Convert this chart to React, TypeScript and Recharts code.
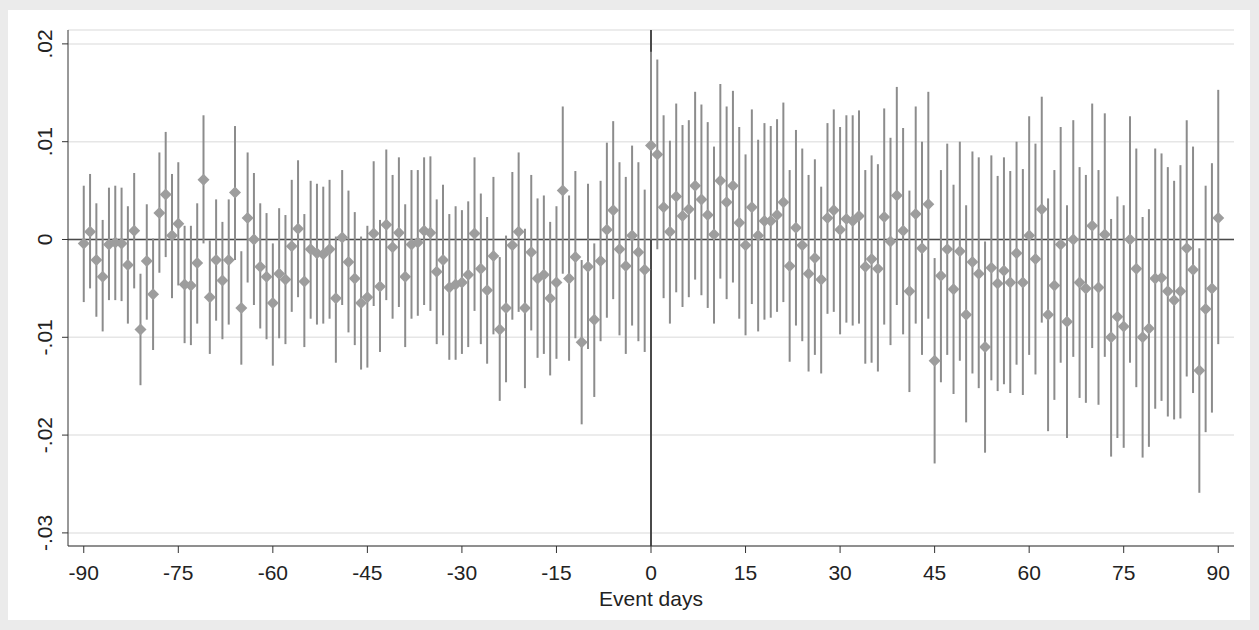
import React from 'react';
import {
  ComposedChart,
  Scatter,
  ErrorBar,
  XAxis,
  YAxis,
  CartesianGrid,
  ReferenceLine,
} from 'recharts';

// event days -90..90
const eventDays = [
  -90, -89, -88, -87, -86, -85, -84, -83, -82, -81, -80, -79, -78, -77, -76,
  -75, -74, -73, -72, -71, -70, -69, -68, -67, -66, -65, -64, -63, -62, -61,
  -60, -59, -58, -57, -56, -55, -54, -53, -52, -51, -50, -49, -48, -47, -46,
  -45, -44, -43, -42, -41, -40, -39, -38, -37, -36, -35, -34, -33, -32, -31,
  -30, -29, -28, -27, -26, -25, -24, -23, -22, -21, -20, -19, -18, -17, -16,
  -15, -14, -13, -12, -11, -10, -9, -8, -7, -6, -5, -4, -3, -2, -1,
  0, 1, 2, 3, 4, 5, 6, 7, 8, 9, 10, 11, 12, 13, 14,
  15, 16, 17, 18, 19, 20, 21, 22, 23, 24, 25, 26, 27, 28, 29,
  30, 31, 32, 33, 34, 35, 36, 37, 38, 39, 40, 41, 42, 43, 44,
  45, 46, 47, 48, 49, 50, 51, 52, 53, 54, 55, 56, 57, 58, 59,
  60, 61, 62, 63, 64, 65, 66, 67, 68, 69, 70, 71, 72, 73, 74,
  75, 76, 77, 78, 79, 80, 81, 82, 83, 84, 85, 86, 87, 88, 89, 90,
];

const estimates = [
  -0.0004, 0.0008, -0.0021, -0.0038, -0.0005, -0.0003, -0.0004, -0.0026, 0.0009, -0.0092, -0.0022, -0.0056, 0.0027, 0.0046, 0.0004,
  0.0016, -0.0046, -0.0047, -0.0024, 0.0061, -0.0059, -0.0021, -0.0042, -0.0021, 0.0048, -0.007, 0.0022, 0.0, -0.0028, -0.0038,
  -0.0065, -0.0035, -0.0041, -0.0007, 0.0011, -0.0043, -0.001, -0.0014, -0.0015, -0.001, -0.006, 0.0002, -0.0023, -0.004, -0.0065,
  -0.0059, 0.0006, -0.0048, 0.0015, -0.0008, 0.0007, -0.0038, -0.0005, -0.0003, 0.0009, 0.0007, -0.0033, -0.0021, -0.0049, -0.0046,
  -0.0044, -0.0036, 0.0006, -0.003, -0.0052, -0.0017, -0.0092, -0.007, -0.0006, 0.0008, -0.007, -0.0013, -0.004, -0.0036, -0.006,
  -0.0044, 0.005, -0.004, -0.0018, -0.0105, -0.0028, -0.0082, -0.0022, 0.001, 0.003, -0.001, -0.0027, 0.0004, -0.0013, -0.0031,
  0.0096, 0.0087, 0.0033, 0.0008, 0.0044, 0.0024, 0.0031, 0.0055, 0.0041, 0.0025, 0.0005, 0.006, 0.0038, 0.0055, 0.0017,
  -0.0006, 0.0033, 0.0004, 0.0019, 0.0019, 0.0025, 0.0038, -0.0027, 0.0012, -0.0006, -0.0035, -0.0019, -0.0041, 0.0022, 0.003,
  0.001, 0.0021, 0.0019, 0.0024, -0.0028, -0.002, -0.003, 0.0023, -0.0002, 0.0045, 0.0009, -0.0053, 0.0026, -0.0009, 0.0036,
  -0.0124, -0.0037, -0.001, -0.0051, -0.0012, -0.0077, -0.0023, -0.0035, -0.011, -0.0029, -0.0045, -0.0032, -0.0044, -0.0014, -0.0044,
  0.0004, -0.002, 0.0031, -0.0077, -0.0047, -0.0005, -0.0084, 0.0, -0.0044, -0.005, 0.0014, -0.0049, 0.0005, -0.01, -0.0079,
  -0.0089, 0.0, -0.003, -0.01, -0.0091, -0.004, -0.0039, -0.0053, -0.0062, -0.0053, -0.0009, -0.0031, -0.0134, -0.0071, -0.005, 0.0022,
];

const ciLow = [
  -0.0064, -0.005, -0.0079, -0.0094, -0.0062, -0.0062, -0.0063, -0.0086, -0.005, -0.0149, -0.0082, -0.0113, -0.0034, -0.0018, -0.006,
  -0.0047, -0.0106, -0.0108, -0.0086, -0.0004, -0.0117, -0.0083, -0.0102, -0.0087, -0.0021, -0.0128, -0.0044, -0.0067, -0.0091, -0.0102,
  -0.0129, -0.0101, -0.0107, -0.0074, -0.0059, -0.011, -0.0081, -0.0087, -0.0086, -0.0081, -0.0126, -0.0067, -0.0095, -0.0108, -0.0133,
  -0.0131, -0.0068, -0.0115, -0.0062, -0.0081, -0.0069, -0.011, -0.0081, -0.0078, -0.0067, -0.0073, -0.0107, -0.0098, -0.0123, -0.0123,
  -0.0117, -0.011, -0.0073, -0.0107, -0.0127, -0.0097, -0.0165, -0.0146, -0.0082, -0.0074, -0.0152, -0.0093, -0.0121, -0.0117, -0.0139,
  -0.0122, -0.0035, -0.0124, -0.0101, -0.0189, -0.0112, -0.0161, -0.0104, -0.008, -0.0061, -0.0098, -0.0117, -0.0088, -0.0104, -0.0115,
  0.0, -0.001, -0.006, -0.0086, -0.0054, -0.0069, -0.0059, -0.0041, -0.0057, -0.007, -0.0086, -0.004, -0.0061, -0.0044, -0.0081,
  -0.0098, -0.0066, -0.0094, -0.0082, -0.008, -0.0074, -0.0064, -0.0125, -0.0088, -0.0104, -0.0135, -0.0118, -0.0137, -0.0076, -0.0074,
  -0.0097, -0.0085, -0.0088, -0.0086, -0.0127, -0.0126, -0.0135, -0.0087, -0.0108, -0.0067, -0.0097, -0.0156, -0.0086, -0.0118, -0.0081,
  -0.0229, -0.0146, -0.0118, -0.0158, -0.0124, -0.0187, -0.0137, -0.0152, -0.0218, -0.0144, -0.0155, -0.0148, -0.0157, -0.0128, -0.0159,
  -0.0118, -0.0138, -0.0085, -0.0196, -0.0164, -0.0126, -0.0203, -0.012, -0.0162, -0.0167, -0.0111, -0.0169, -0.012, -0.0222, -0.0203,
  -0.0213, -0.0126, -0.0151, -0.0223, -0.0212, -0.0173, -0.0165, -0.0181, -0.0184, -0.0183, -0.014, -0.0157, -0.0259, -0.0197, -0.0177, -0.0107,
];

const ciHigh = [
  0.0055, 0.0067, 0.0037, 0.002, 0.0053, 0.0055, 0.0053, 0.0034, 0.0068, -0.0035, 0.0036, 0.0001, 0.0089, 0.011, 0.0067,
  0.0079, 0.0014, 0.0014, 0.0037, 0.0127, -0.0001, 0.0041, 0.0018, 0.0041, 0.0116, -0.0012, 0.0089, 0.0068, 0.0037, 0.0027,
  -0.0004, 0.0032, 0.0025, 0.0061, 0.0081, 0.0026, 0.006, 0.0057, 0.0054, 0.0061, 0.0003, 0.0071, 0.005, 0.0028, 0.0003,
  0.0014, 0.008, 0.002, 0.0092, 0.0066, 0.0084, 0.0036, 0.0071, 0.0071, 0.0084, 0.0085, 0.0041, 0.0056, 0.0026, 0.0034,
  0.003, 0.0039, 0.0084, 0.0047, 0.0023, 0.0064, -0.0018, 0.0004, 0.0069, 0.0089, 0.0011, 0.0066, 0.0042, 0.0045, 0.0018,
  0.0034, 0.0136, 0.0045, 0.007, -0.0021, 0.0057, -0.0004, 0.006, 0.0099, 0.0121, 0.0079, 0.0064, 0.0096, 0.0079, 0.0051,
  0.0192, 0.0184, 0.0127, 0.0101, 0.0139, 0.0117, 0.0122, 0.0151, 0.0138, 0.012, 0.0095, 0.0159, 0.0136, 0.0152, 0.0115,
  0.0087, 0.0133, 0.0102, 0.0119, 0.0116, 0.0123, 0.014, 0.0071, 0.0112, 0.0093, 0.0066, 0.0082, 0.0054, 0.0119, 0.0133,
  0.0115, 0.0127, 0.0127, 0.0132, 0.0071, 0.0086, 0.0077, 0.0134, 0.0104, 0.0156, 0.0114, 0.005, 0.0136, 0.01, 0.0151,
  -0.0019, 0.0071, 0.0098, 0.0056, 0.01, 0.0035, 0.009, 0.0084, -0.0002, 0.0086, 0.0065, 0.0084, 0.007, 0.01, 0.0072,
  0.0126, 0.0098, 0.0146, 0.0042, 0.0071, 0.0115, 0.0035, 0.0122, 0.0074, 0.0066, 0.0139, 0.0071, 0.0129, 0.0021, 0.0044,
  0.0035, 0.0126, 0.0093, 0.0023, 0.0031, 0.0093, 0.0088, 0.0074, 0.006, 0.0076, 0.0122, 0.0095, -0.0009, 0.0055, 0.0078, 0.0153,
];

const xTicks = [-90, -75, -60, -45, -30, -15, 0, 15, 30, 45, 60, 75, 90];
const yTicks = [-0.03, -0.02, -0.01, 0, 0.01, 0.02];

const chartData = eventDays.map((day, i) => ({
  day,
  est: estimates[i],
  err: [estimates[i] - ciLow[i], ciHigh[i] - estimates[i]],
}));

const FONT = 'Arial, "Liberation Sans", sans-serif';
const FS = 21;

const fmtY = (v: number) => {
  if (Math.abs(v) < 1e-9) return '0';
  const s = Math.abs(v).toFixed(2).replace(/^0/, '');
  return (v < 0 ? '-' : '') + s;
};

const YTick = (props: any) => {
  const { x, y, payload } = props;
  return (
    <text
      transform={`translate(${x - 8}, ${y}) rotate(-90)`}
      textAnchor="middle"
      fontSize={FS}
      fontFamily={FONT}
      fill="#222"
    >
      {fmtY(payload.value)}
    </text>
  );
};

const Diamond = (props: any) => {
  const { cx, cy } = props;
  if (cx == null || cy == null) return null;
  const r = 6;
  return (
    <path
      d={`M${cx},${cy - r}L${cx + r},${cy}L${cx},${cy + r}L${cx - r},${cy}Z`}
      fill="#9d9d9d"
    />
  );
};

const NoShape = () => <g />;

export default function App() {
  return (
    <div
      style={{
        position: 'absolute',
        left: 0,
        top: 0,
        width: 1259,
        height: 630,
        background: '#ebebeb',
      }}
    >
      <div
        style={{
          position: 'absolute',
          left: 8,
          top: 10,
          width: 1242,
          height: 610,
          background: '#ffffff',
        }}
      />
      <div style={{ position: 'absolute', left: 0, top: 0 }}>
        <ComposedChart
          width={1259}
          height={630}
          data={chartData}
          margin={{ top: 30, right: 25, left: 0, bottom: 0 }}
        >
          <CartesianGrid horizontal vertical={false} stroke="#e6e6e6" strokeWidth={1.5} />
          <XAxis
            dataKey="day"
            type="number"
            domain={[-92.5, 92.5]}
            ticks={xTicks}
            height={84}
            tickSize={7}
            tickMargin={12}
            stroke="#333"
            tick={{ fontSize: FS, fontFamily: FONT, fill: '#222' }}
            label={{
              value: 'Event days',
              position: 'insideBottom',
              offset: 24,
              fontSize: FS,
              fontFamily: FONT,
              fill: '#222',
            }}
          />
          <YAxis
            type="number"
            domain={[-0.03134, 0.02142]}
            ticks={yTicks}
            width={68}
            tickSize={6}
            stroke="#333"
            allowDataOverflow
            tick={<YTick />}
          />
          <ReferenceLine y={0} stroke="#4a4a4a" strokeWidth={1.5} />
          <ReferenceLine x={0} stroke="#4a4a4a" strokeWidth={2} />
          <Scatter dataKey="est" shape={<NoShape />} isAnimationActive={false}>
            <ErrorBar
              dataKey="err"
              direction="y"
              width={0}
              stroke="#8c8c8c"
              strokeWidth={2}
              isAnimationActive={false}
            />
          </Scatter>
          <Scatter dataKey="est" shape={<Diamond />} isAnimationActive={false} />
        </ComposedChart>
      </div>
    </div>
  );
}
